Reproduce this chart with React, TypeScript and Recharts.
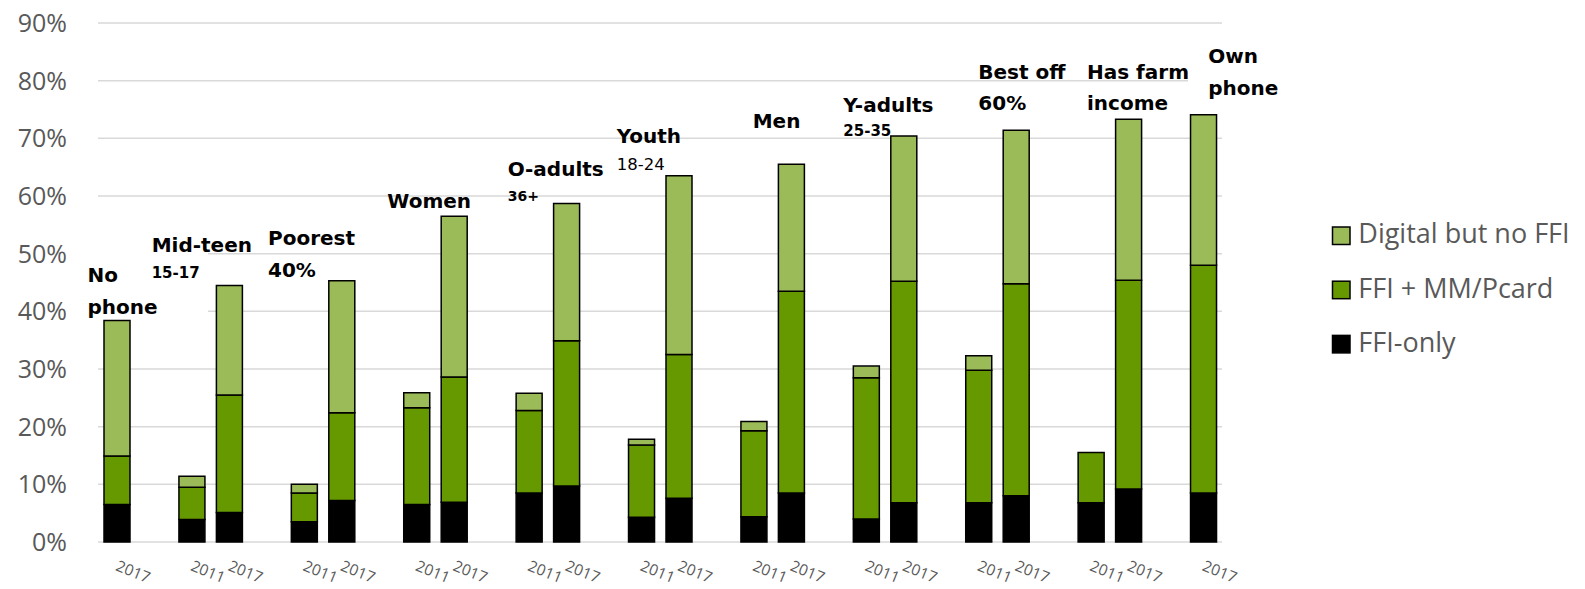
import React from 'react';
import { BarChart, Bar, XAxis, YAxis, CartesianGrid, Customized } from 'recharts';

// 30 category slots (empty slots separate the groups)
const years = ['2017', '', '2011', '2017', '', '2011', '2017', '', '2011', '2017', '', '2011', '2017', '', '2011', '2017', '', '2011', '2017', '', '2011', '2017', '', '2011', '2017', '', '2011', '2017', '', '2017'];
const ffiOnly = [6.5, null, 3.9, 5.1, null, 3.5, 7.2, null, 6.5, 6.9, null, 8.5, 9.7, null, 4.3, 7.6, null, 4.4, 8.5, null, 4.0, 6.8, null, 6.8, 8.0, null, 6.8, 9.2, null, 8.5];
const ffiMM = [8.4, null, 5.6, 20.4, null, 5.0, 15.2, null, 16.8, 21.7, null, 14.3, 25.2, null, 12.5, 24.9, null, 14.9, 35.0, null, 24.5, 38.4, null, 23.0, 36.8, null, 8.7, 36.2, null, 39.5];
const digital = [23.5, null, 1.9, 19.0, null, 1.5, 22.9, null, 2.6, 27.9, null, 3.0, 23.8, null, 1.0, 31.0, null, 1.6, 22.0, null, 2.0, 25.2, null, 2.5, 26.6, null, 0, 27.9, null, 26.1];
const yTicks = [0, 10, 20, 30, 40, 50, 60, 70, 80, 90];

const groupMain = ['No', 'Mid-teen', 'Poorest', 'Women', 'O-adults', 'Youth', 'Men', 'Y-adults', 'Best off', 'Has farm', 'Own'];
const groupSub = ['phone', '15-17', '40%', '', '36+', '18-24', '', '25-35', '60%', 'income', 'phone'];

const seriesNames = ['Digital but no FFI', 'FFI + MM/Pcard', 'FFI-only'];
const C_LIGHT = '#9BBB59';
const C_MID = '#669900';
const C_DARK = '#000000';

const data = years.map((y, i) => ({
  slot: i,
  year: y,
  ffiOnly: ffiOnly[i],
  ffiMM: ffiMM[i],
  digital: digital[i],
}));

// annotation layout: [x, baseline1, baseline2, subSize, subWeight]
const labelLayout: [number, number, number, number, string][] = [
  [87.5, 281.7, 313.7, 20, 'bold'],
  [151.7, 251.7, 278.3, 15, 'bold'],
  [268, 245, 277.3, 20, 'bold'],
  [387.3, 208, 0, 0, 'bold'],
  [507.7, 175.5, 200.7, 14, 'bold'],
  [616.7, 143.3, 170, 16.5, 'normal'],
  [752.7, 127.7, 0, 0, 'bold'],
  [843.3, 111.5, 136, 15, 'bold'],
  [978.3, 79.4, 110, 20, 'bold'],
  [1087, 79.4, 110, 20, 'bold'],
  [1208.3, 62.5, 94.5, 20, 'bold'],
];

const GroupLabels = () => (
  <g>
    <rect x={88} y={236} width={120} height={82} fill="#fff" />
    <rect x={1188} y={36} width={80} height={64} fill="#fff" />
    {groupMain.map((t, i) => {
      const [x, b1, b2, ss, sw] = labelLayout[i];
      return (
        <g key={i} fontFamily="DejaVu Sans" fill="#000">
          <text x={x} y={b1} fontSize={20} fontWeight="bold">{t}</text>
          {groupSub[i] ? (
            <text x={x} y={b2} fontSize={ss} fontWeight={sw}>{groupSub[i]}</text>
          ) : null}
        </g>
      );
    })}
  </g>
);

const YearTick = (props: any) => {
  const { x, y, payload } = props;
  const label = years[payload.value];
  if (!label) return null;
  const tx = x - 2;
  const ty = y + 28;
  return (
    <text x={tx} y={ty} transform={`rotate(22 ${tx} ${ty})`} textAnchor="start" fontFamily="Open Sans" fontSize={15.5} fill="#595959">
      {label}
    </text>
  );
};

const legendColors = [C_LIGHT, C_MID, C_DARK];

const LegendBox = () => (
  <svg width={265} height={170} style={{ position: 'absolute', left: 1319, top: 209 }}>
    {seriesNames.map((n, i) => (
      <g key={n}>
        <rect x={13.5} y={18 + i * 54.2} width={17.5} height={17.5} fill={legendColors[i]} stroke="#000" strokeWidth={1.5} />
        <text x={39.3} y={34.3 + i * 54.2} fontFamily="Open Sans" fontSize={27} fill="#595959">{n}</text>
      </g>
    ))}
  </svg>
);

export default function App() {
  return (
    <div style={{ position: 'absolute', left: 0, top: 0, width: 1585, height: 589, background: '#fff' }}>
      <BarChart width={1585} height={589} data={data} margin={{ top: 23, right: 363, bottom: 0, left: 0 }} barSize={26}>
        <CartesianGrid vertical={false} stroke="#D9D9D9" strokeWidth={1.5} />
        <XAxis dataKey="slot" type="category" interval={0} height={47} axisLine={false} tickLine={false} tickSize={0} tickMargin={0} tick={<YearTick />} />
        <YAxis
          width={98}
          domain={[0, 90]}
          ticks={yTicks}
          tickFormatter={(v: number) => `${v}%`}
          axisLine={false}
          tickLine={false}
          tickSize={0}
          tickMargin={31}
          tick={{ fontFamily: 'Open Sans', fontSize: 25, fill: '#595959' }}
        />
        <Bar dataKey="ffiOnly" name={seriesNames[2]} stackId="a" fill={C_DARK} stroke="#000" strokeWidth={1.5} isAnimationActive={false} />
        <Bar dataKey="ffiMM" name={seriesNames[1]} stackId="a" fill={C_MID} stroke="#000" strokeWidth={1.5} isAnimationActive={false} />
        <Bar dataKey="digital" name={seriesNames[0]} stackId="a" fill={C_LIGHT} stroke="#000" strokeWidth={1.5} isAnimationActive={false} />
        <Customized component={GroupLabels} />
      </BarChart>
      <LegendBox />
    </div>
  );
}
